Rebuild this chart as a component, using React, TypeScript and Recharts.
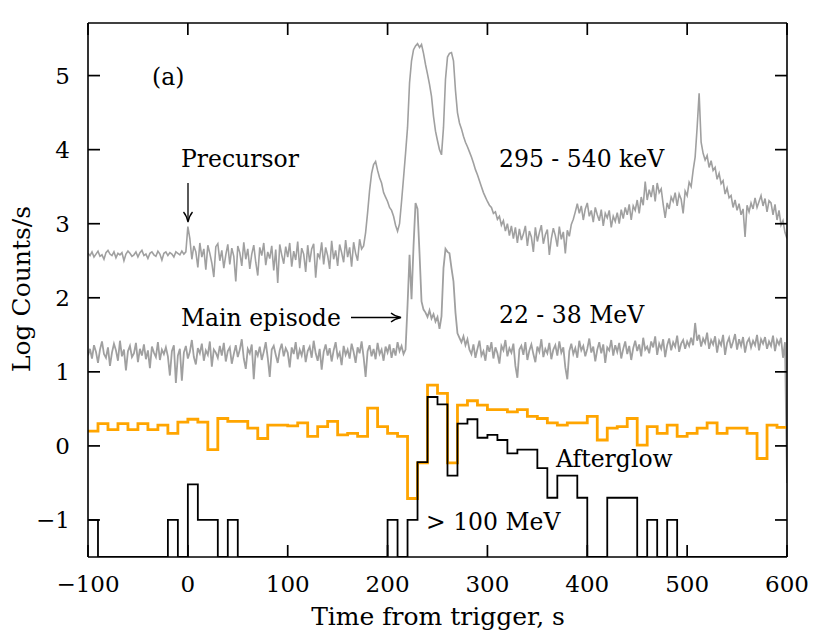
import { LineChart, Line, XAxis, YAxis } from "recharts";

// 295-540 keV light curve, log counts/s, 2 s samples
const KEV_STEP = 2;
const kevPreStart = -100;
const kevPre = [
  2.6, 2.57, 2.62, 2.55, 2.59, 2.63, 2.56, 2.58, 2.52, 2.61,
  2.64, 2.59, 2.57, 2.62, 2.54, 2.6, 2.58, 2.61, 2.5, 2.59,
  2.63, 2.6, 2.56, 2.58, 2.62, 2.55, 2.61, 2.64, 2.57, 2.59,
  2.53, 2.6, 2.62, 2.58, 2.56, 2.63, 2.59, 2.51, 2.6, 2.62,
  2.57, 2.61, 2.59, 2.55, 2.62, 2.6, 2.58, 2.63, 2.59, 2.62,
];
const kevQuietStart = 0;
const kevQuiet = [
  2.96, 2.8, 2.52, 2.7, 2.62, 2.41, 2.74, 2.55, 2.66, 2.38,
  2.71, 2.6, 2.47, 2.28, 2.69, 2.73, 2.5, 2.64, 2.4, 2.58,
  2.72, 2.45, 2.67, 2.56, 2.22, 2.7, 2.61, 2.43, 2.75, 2.52,
  2.66, 2.39, 2.59, 2.71, 2.48, 2.3, 2.68, 2.57, 2.74, 2.44,
  2.62, 2.53, 2.7, 2.37, 2.65, 2.2, 2.72, 2.58, 2.46, 2.69,
  2.55, 2.74, 2.42, 2.63, 2.51, 2.76, 2.4, 2.67, 2.59, 2.35,
  2.71, 2.48, 2.66, 2.73, 2.27, 2.6, 2.54, 2.75, 2.45, 2.68,
  2.57, 2.39, 2.77, 2.52, 2.64, 2.43, 2.72, 2.61, 2.48, 2.78,
  2.55, 2.68, 2.42, 2.75, 2.6, 2.5, 2.79, 2.66, 2.7,
];
const kevMainStart = 178;
const kevMain = [
  2.88, 3.15, 3.45, 3.68, 3.8, 3.84, 3.72, 3.62, 3.55, 3.42,
  3.36, 3.3, 3.22, 3.18, 3.1, 2.98, 2.9, 3.0, 3.3, 3.62,
  3.95, 4.3, 4.9, 5.2, 5.35, 5.4, 5.43, 5.38, 5.42, 5.3,
  5.15, 5.02, 4.88, 4.72, 4.45, 4.25, 4.12, 4.0, 3.93, 4.3,
  4.95, 5.25, 5.3, 5.31, 5.2, 4.8, 4.5, 4.36, 4.28, 4.18,
  4.1, 4.04, 3.97, 3.9, 3.82, 3.73, 3.66, 3.58, 3.5, 3.42,
  3.36, 3.3, 3.25, 3.22, 3.14, 3.16, 3.06, 3.1, 2.98, 3.04,
  2.9, 3.0, 2.84, 2.97, 2.8, 2.95, 2.74,
];
const kevTailStart = 332;
const kevTail = [
  2.93, 2.78, 2.86, 2.97, 2.7, 2.9, 2.82, 2.62, 2.95, 2.76,
  2.88, 2.98, 2.73, 2.85, 2.92, 2.58, 2.8, 2.94, 2.84, 2.69,
  2.96, 2.79, 2.89, 2.6, 2.91, 2.83, 2.99, 3.06, 3.16, 3.27,
  3.14, 3.24, 3.05, 3.2, 3.28, 3.1, 3.18, 3.02, 3.22, 3.12,
  3.04, 3.19, 2.97, 3.14, 3.08, 3.18, 2.95, 3.1, 3.03, 3.15,
  3.0, 3.19, 3.07, 3.22, 3.12, 3.26, 3.05, 3.24, 3.18, 3.32,
  3.14, 3.36, 3.25, 3.57, 3.32, 3.46, 3.36, 3.52, 3.3, 3.55,
  3.42, 3.47, 3.26, 3.08, 3.28, 3.2, 3.36, 3.3, 3.42, 3.24,
  3.4, 3.33, 3.14, 3.44, 3.38, 3.56, 3.5, 3.72, 3.9, 4.3,
  4.76, 4.1, 3.95, 3.86, 3.92, 3.76, 3.85, 3.72, 3.76, 3.6,
  3.68, 3.54, 3.58, 3.4, 3.48, 3.35, 3.38, 3.22, 3.32, 3.18,
  3.27, 3.12, 3.2, 2.82, 3.25, 3.16, 3.28, 3.2, 3.35, 3.22,
  3.3, 3.38, 3.24, 3.34, 3.16, 3.31, 3.28, 3.12, 3.26, 3.05,
  3.18, 2.98, 3.04, 2.88, 2.8,
];

// 22-38 MeV light curve, 2 s samples
const MEV_STEP = 2;
const mevPreStart = -100;
const mevPre = [
  1.22, 1.31, 1.18, 1.36, 1.27, 1.12, 1.3, 1.41, 1.24, 1.19,
  1.33, 1.08, 1.26, 1.38, 1.29, 1.15, 1.42, 1.21, 1.3, 1.02,
  1.28, 1.35, 1.2, 1.25, 1.39, 1.13, 1.31, 1.22, 1.37, 1.17,
  1.29, 1.05, 1.34, 1.26, 1.2, 1.4, 1.16, 1.3, 1.24, 1.33,
  1.21, 0.95, 1.28, 1.36, 0.85, 1.22, 1.31, 0.88, 1.26, 1.35,
  1.18, 1.27, 1.43, 1.2, 1.1, 1.32, 1.25, 1.38, 1.15, 1.29,
  1.23, 1.41, 1.07, 1.3, 1.26, 1.19, 1.35, 1.22, 1.39, 1.14,
  1.28, 1.33, 1.11, 1.24, 1.36, 1.2, 1.3, 1.44, 1.18, 1.04,
  1.31, 1.25, 1.37, 0.9, 1.29, 1.22, 1.34, 1.16, 1.27, 1.4,
  1.19, 0.93, 1.3, 1.35, 1.23, 1.12, 1.29, 1.38, 1.21, 1.32,
  1.26, 1.06, 1.33, 1.24, 1.4, 1.17, 1.3, 1.22, 1.36, 1.13,
  1.28, 1.34, 1.19, 1.42, 1.25, 1.15, 1.31, 1.03, 1.27, 1.37,
  1.22, 1.32, 1.14, 1.29, 1.4, 1.2, 1.26, 1.09, 1.35, 1.23,
  1.3, 1.18, 1.38, 1.27, 1.12, 1.33, 1.25, 1.41, 1.2, 0.93,
  1.28, 1.36, 1.21, 1.31, 1.17, 1.39, 1.24, 1.3, 1.15, 1.34,
  1.26, 1.37, 1.19, 1.32, 1.22, 1.4, 1.28, 1.35, 1.24,
];
const mevMainStart = 218;
const mevMain = [
  1.3, 1.9, 2.58, 1.98, 2.7, 3.28, 3.2, 2.6, 1.95, 1.84,
  1.8, 1.74, 1.83, 1.72, 1.78, 1.68, 1.74, 1.58, 1.75, 2.4,
  2.66, 2.62, 2.6, 2.4, 2.22, 1.8, 1.52, 1.46, 1.4, 1.48,
  1.36, 1.44,
];
const mevTailStart = 282;
const mevTail = [
  1.3, 1.24, 1.37, 1.19, 1.31, 1.42, 1.22, 1.28, 1.15, 1.36,
  1.27, 1.4, 1.18, 1.33, 1.25, 1.11, 1.35, 1.29, 1.43, 1.21,
  1.32, 1.26, 1.38, 1.08, 0.92, 1.3, 1.35, 1.23, 1.4, 1.16,
  1.29, 1.37, 1.24, 1.13, 1.34, 1.27, 1.44, 1.2, 1.31, 1.25,
  1.39, 1.17, 1.3, 1.36, 1.22, 1.41, 1.26, 1.33, 1.06, 0.9,
  1.28, 1.38, 1.24, 1.32, 1.19, 1.42, 1.29, 1.35, 1.21, 1.31,
  1.45, 1.26, 1.34, 1.14, 1.3, 1.4, 1.25, 1.37, 1.12, 1.33,
  1.29, 1.43, 1.22, 1.36, 1.27, 1.39, 1.18, 1.31, 1.41, 1.24,
  1.35, 1.16, 1.32, 1.42, 1.28, 1.37, 1.21, 1.46, 1.3, 1.34,
  1.25, 1.41, 1.33, 1.48, 1.23, 1.38, 1.31, 1.44, 1.2, 1.36,
  1.45, 1.29, 1.4, 1.34, 1.49, 1.27, 1.38, 1.43, 1.31, 1.41,
  1.35, 1.46, 1.36, 1.66, 1.42, 1.5, 1.34, 1.45, 1.39, 1.53,
  1.31, 1.43, 1.37, 1.48, 1.26, 1.42, 1.36, 1.5, 1.23, 1.39,
  1.46, 1.32, 1.41, 1.51, 1.3, 1.44, 1.35, 1.47, 1.26, 1.4,
  1.45, 1.33, 1.42, 1.36, 1.5, 1.29, 1.44, 1.38, 1.47, 1.31,
  1.41, 1.35, 1.49, 1.28, 1.43, 1.37, 1.46, 1.19, 1.4, -0.5,
];

// 10 s bins starting at -100 s
const BIN_START = -100;
const BIN_WIDTH = 10;
const orangeBins = [
  0.2, 0.3, 0.22, 0.3, 0.22, 0.3, 0.22, 0.28, 0.17, 0.32,
  0.36, 0.32, -0.05, 0.37, 0.33, 0.33, 0.24, 0.1, 0.28, 0.28,
  0.27, 0.31, 0.13, 0.26, 0.33, 0.15, 0.17, 0.13, 0.51, 0.26,
  0.17, 0.13, -0.71, -0.23, 0.82, 0.71, -0.23, 0.55, 0.61, 0.55,
  0.49, 0.49, 0.46, 0.49, 0.4, 0.37, 0.31, 0.28, 0.31, 0.31,
  0.4, 0.08, 0.24, 0.26, 0.37, 0.01, 0.26, 0.17, 0.28, 0.13,
  0.17, 0.24, 0.31, 0.17, 0.24, 0.24, 0.17, -0.17, 0.28, 0.25,
];
// >100 MeV, -1.5 = empty bin (drawn on the bottom edge)
const blackBins = [
  -1, -1.5, -1.5, -1.5, -1.5, -1.5, -1.5, -1.5, -1, -1.5,
  -0.52, -1, -1, -1.5, -1, -1.5, -1.5, -1.5, -1.5, -1.5,
  -1.5, -1.5, -1.5, -1.5, -1.5, -1.5, -1.5, -1.5, -1.5, -1.5,
  -1, -1.5, -1, -0.22, 0.66, 0.56, -0.4, 0.3, 0.36, 0.11,
  0.15, 0.08, -0.1, -0.05, -0.05, -0.3, -0.7, -0.4, -0.4, -0.7,
  -1.5, -1.5, -0.7, -0.7, -0.7, -1.5, -1, -1.5, -1, -1.5,
  -1.5, -1.5, -1.5, -1.5, -1.5, -1.5, -1.5, -1.5, -1.5, -1.5,
];

const xTicks = [-100, 0, 100, 200, 300, 400, 500, 600];
const yTicks = [-1, 0, 1, 2, 3, 4, 5];
const X_MIN = -100;
const X_MAX = 600;
const Y_MIN = -1.5;
const Y_MAX = 5.71;

const samples = (start: number, step: number, values: number[]) =>
  values.map((v, i) => ({ t: start + i * step, v }));

const steps = (values: number[]) => {
  const pts = samples(BIN_START, BIN_WIDTH, values);
  // close the last bin at its right edge
  pts.push({ t: BIN_START + values.length * BIN_WIDTH, v: values[values.length - 1] });
  return pts;
};

const kevData = [
  ...samples(kevPreStart, KEV_STEP, kevPre),
  ...samples(kevQuietStart, KEV_STEP, kevQuiet),
  ...samples(kevMainStart, KEV_STEP, kevMain),
  ...samples(kevTailStart, KEV_STEP, kevTail),
];
const mevData = [
  ...samples(mevPreStart, MEV_STEP, mevPre),
  ...samples(mevMainStart, MEV_STEP, mevMain),
  ...samples(mevTailStart, MEV_STEP, mevTail),
];
const orangeData = steps(orangeBins);
const blackData = steps(blackBins);

const W = 830;
const H = 635;
const MARGIN = { top: 22, right: 42, bottom: 0, left: 0 };
const X_AXIS_H = 78;
const Y_AXIS_W = 88;
// plot frame (top axis 1px tall, right axis 1px wide)
const PLOT_LEFT = MARGIN.left + Y_AXIS_W;
const PLOT_TOP = MARGIN.top + 1;
const PLOT_RIGHT = W - MARGIN.right - 1;
const PLOT_BOTTOM = H - MARGIN.bottom - X_AXIS_H;
const TICK = 12;
const tx = (t: number) => PLOT_LEFT + ((t - X_MIN) / (X_MAX - X_MIN)) * (PLOT_RIGHT - PLOT_LEFT);
const ty = (v: number) => PLOT_BOTTOM - ((v - Y_MIN) / (Y_MAX - Y_MIN)) * (PLOT_BOTTOM - PLOT_TOP);

const FONT = "'DejaVu Serif', serif";
const fmt = (v: number) => (v < 0 ? `\u2212${Math.abs(v)}` : `${v}`);
const axisLine = { stroke: "#000", strokeWidth: 1.6 };
const tickFont = { fill: "#000", fontSize: 23, fontFamily: FONT };

export default function App() {
  return (
    <div style={{ position: "absolute", left: 0, top: 0, width: W, height: H, background: "#fff" }}>
      <LineChart width={W} height={H} margin={MARGIN}>
        <XAxis
          dataKey="t"
          type="number"
          domain={[X_MIN, X_MAX]}
          ticks={xTicks}
          allowDataOverflow
          tickFormatter={fmt}
          tickSize={-TICK}
          tickMargin={31}
          height={X_AXIS_H}
          axisLine={axisLine}
          tickLine={false}
          tick={tickFont}
        />
        <XAxis
          xAxisId="top"
          orientation="top"
          dataKey="t"
          type="number"
          domain={[X_MIN, X_MAX]}
          allowDataOverflow
          height={1}
          axisLine={axisLine}
          tickLine={false}
          tick={false}
        />
        <YAxis
          type="number"
          domain={[Y_MIN, Y_MAX]}
          ticks={yTicks}
          allowDataOverflow
          tickFormatter={fmt}
          tickSize={-TICK}
          tickMargin={30}
          width={Y_AXIS_W}
          axisLine={axisLine}
          tickLine={false}
          tick={tickFont}
        />
        <YAxis
          yAxisId="right"
          orientation="right"
          type="number"
          domain={[Y_MIN, Y_MAX]}
          allowDataOverflow
          width={1}
          axisLine={axisLine}
          tickLine={false}
          tick={false}
        />
        <Line data={kevData} dataKey="v" type="linear" stroke="#a0a0a0" strokeWidth={1.6} dot={false} activeDot={false} isAnimationActive={false} />
        <Line data={mevData} dataKey="v" type="linear" stroke="#a0a0a0" strokeWidth={1.8} dot={false} activeDot={false} isAnimationActive={false} />
        <Line data={orangeData} dataKey="v" type="stepAfter" stroke="#ffa500" strokeWidth={2.8} dot={false} activeDot={false} isAnimationActive={false} />
        <Line data={blackData} dataKey="v" type="stepAfter" stroke="#000" strokeWidth={1.8} dot={false} activeDot={false} isAnimationActive={false} />
      </LineChart>
      <svg
        width={W}
        height={H}
        style={{ position: "absolute", left: 0, top: 0, pointerEvents: "none" }}
        fontFamily={FONT}
        fill="#000"
      >
        {/* inward frame ticks on all four sides */}
        <g stroke="#000" strokeWidth={1.7}>
          {xTicks.map((t) => (
            <g key={`x${t}`}>
              <line x1={tx(t)} x2={tx(t)} y1={PLOT_BOTTOM} y2={PLOT_BOTTOM - TICK} />
              <line x1={tx(t)} x2={tx(t)} y1={PLOT_TOP} y2={PLOT_TOP + TICK} />
            </g>
          ))}
          {yTicks.map((v) => (
            <g key={`y${v}`}>
              <line x1={PLOT_LEFT} x2={PLOT_LEFT + TICK} y1={ty(v)} y2={ty(v)} />
              <line x1={PLOT_RIGHT} x2={PLOT_RIGHT - TICK} y1={ty(v)} y2={ty(v)} />
            </g>
          ))}
        </g>
        <text x={152} y={85} fontSize={23.5}>(a)</text>
        <text x={181} y={167} fontSize={23.5}>Precursor</text>
        <text x={499} y={167} fontSize={23.5}>295 - 540 keV</text>
        <text x={181} y={326} fontSize={23.5}>Main episode</text>
        <text x={499} y={323} fontSize={23.5}>22 - 38 MeV</text>
        <text x={556} y={467} fontSize={23.5}>Afterglow</text>
        <text x={426} y={530} fontSize={23.5}>&gt; 100 MeV</text>
        <text x={438} y={625} fontSize={25} textAnchor="middle">Time from trigger, s</text>
        <text x={30} y={289} fontSize={25} textAnchor="middle" transform="rotate(-90 30 289)">Log Counts/s</text>
        <g stroke="#000" strokeWidth={1.3} fill="none">
          <line x1={188} y1={183} x2={188} y2={221} />
          <path d="M183.5,212 Q186.5,215.5 188,222 Q189.5,215.5 192.5,212" />
          <line x1={351} y1={317.5} x2={400} y2={317.5} />
          <path d="M391,313 Q394.5,316 401,317.5 Q394.5,319 391,322" />
        </g>
      </svg>
    </div>
  );
}
